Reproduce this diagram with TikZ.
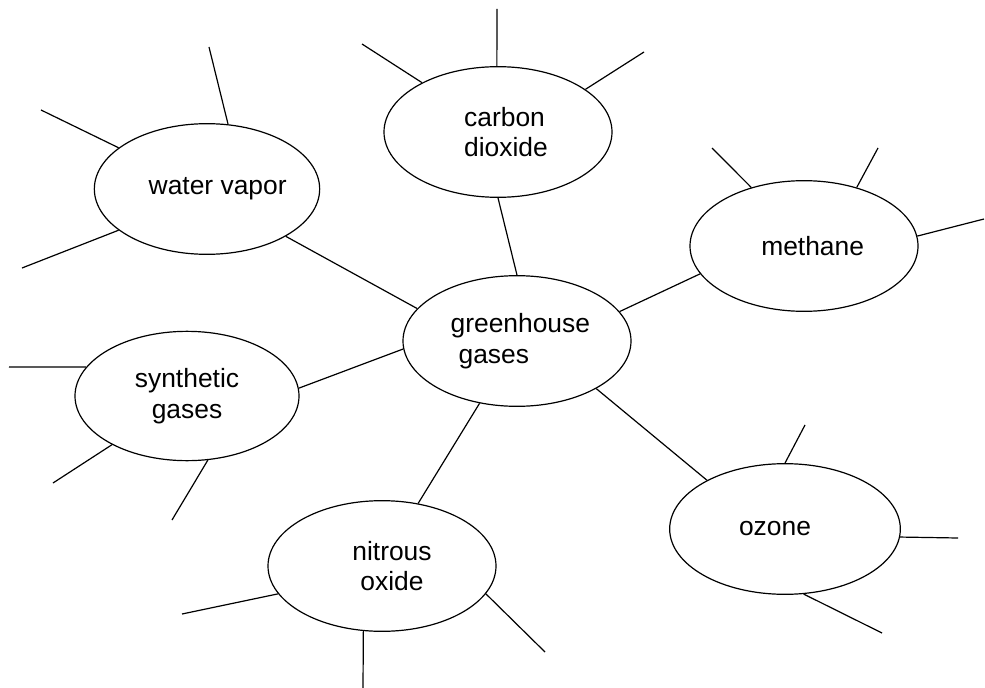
\documentclass[tikz,border=0pt]{standalone}
\usepackage{fontspec}
\setmainfont{Liberation Sans}
\usetikzlibrary{shapes.geometric}

\begin{document}
\begin{tikzpicture}[x=0.75pt,y=-0.75pt,
  gas/.style={draw, ellipse, line width=0.9pt, inner sep=0pt, minimum width=171pt, minimum height=98pt, align=center, font=\fontsize{19.8}{23}\selectfont},
  spoke/.style={line width=0.9pt}]
\useasboundingbox (0,0) rectangle (985,688);
\node[gas, align=left] (gg) at (517,341) {\hspace*{5pt}greenhouse\\\hspace*{11pt}gases};
\node[gas, align=left] (cd) at (498,132) {\hspace*{12pt}carbon\\\hspace*{12pt}dioxide};
\node[gas, minimum width=169pt] (wv) at (207,189) {\hspace*{16pt}water vapor};
\node[gas] (me) at (804,246) {\hspace*{13pt}methane};
\node[gas, minimum width=168pt, minimum height=97pt] (sg) at (187,396) {synthetic\\gases};
\node[gas, minimum width=173pt] (oz) at (785,529) {ozone\hspace*{15pt}};
\node[gas] (no) at (382,566) {\hspace*{15pt}nitrous\\\hspace*{15pt}oxide};
\coordinate (cd1) at (362,44);
\coordinate (cd2) at (497,9);
\coordinate (cd3) at (644,52);
\coordinate (wv1) at (209,47);
\coordinate (wv2) at (41,110);
\coordinate (wv3) at (22,268);
\coordinate (me1) at (712,148);
\coordinate (me2) at (878,148);
\coordinate (me3) at (984,219);
\coordinate (sg1) at (9,367);
\coordinate (sg2) at (53,483);
\coordinate (sg3) at (172,520);
\coordinate (oz1) at (805,425);
\coordinate (oz2) at (958,538);
\coordinate (oz3) at (882,633);
\coordinate (no1) at (182,614);
\coordinate (no2) at (363,688);
\coordinate (no3) at (545,652);
\draw[spoke] (cd.-90) -- (gg.90);
\draw[spoke] (wv.-31) -- (gg.162);
\draw[spoke] (me.195) -- (gg.16);
\draw[spoke] (sg.4) -- (gg.184);
\draw[spoke] (oz.148) -- (gg.-31);
\draw[spoke] (no.60) -- (gg.239);
\draw[spoke] (cd1) -- (cd.147);
\draw[spoke] (cd2) -- (cd.91);
\draw[spoke] (cd3) -- (cd.26);
\draw[spoke] (wv1) -- (wv.72);
\draw[spoke] (wv2) -- (wv.155);
\draw[spoke] (wv3) -- (wv.205);
\draw[spoke] (me1) -- (me.132);
\draw[spoke] (me2) -- (me.48);
\draw[spoke] (me3) -- (me.5);
\draw[spoke] (sg1) -- (sg.164);
\draw[spoke] (sg2) -- (sg.213);
\draw[spoke] (sg3) -- (sg.-72);
\draw[spoke] (oz1) -- (oz.90);
\draw[spoke] (oz2) -- (oz.-4);
\draw[spoke] (oz3) -- (oz.-74);
\draw[spoke] (no1) -- (no.195);
\draw[spoke] (no2) -- (no.254);
\draw[spoke] (no3) -- (no.-15);
\end{tikzpicture}
\end{document}
